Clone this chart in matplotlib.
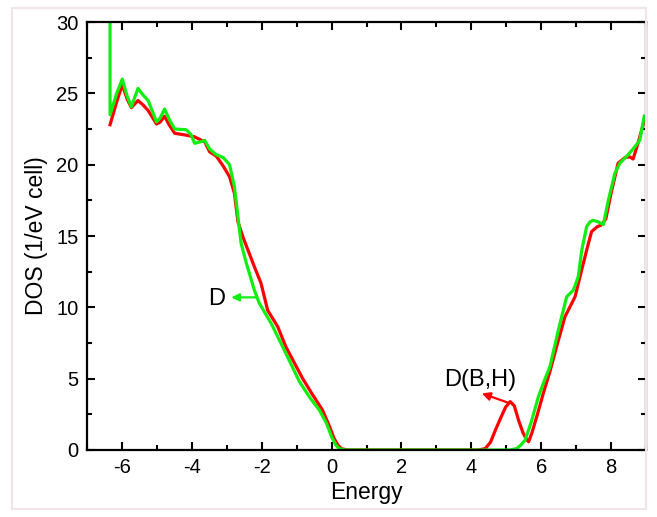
import matplotlib
matplotlib.use("Agg")
import matplotlib.pyplot as plt
from matplotlib.ticker import MultipleLocator
from matplotlib.patches import Rectangle

plt.rcParams["font.family"] = ["Liberation Sans", "DejaVu Sans"]
plt.rcParams["axes.unicode_minus"] = False

# DOS of pristine D (green)
e_d = [-6.34, -6.34, -6.15, -5.99, -5.85, -5.73, -5.54, -5.40, -5.25, -5.01, -4.90,
       -4.78, -4.65, -4.49, -4.16, -4.02, -3.92, -3.75, -3.63, -3.49, -3.30, -3.10,
       -2.92, -2.78, -2.68, -2.59, -2.44, -2.21, -2.07, -1.73, -1.40, -0.92, -0.60,
       -0.35, -0.15, 0.0, 0.12, 0.22, 0.4, 5.1, 5.30, 5.42, 5.54, 5.72, 5.92, 6.08,
       6.25, 6.49, 6.73, 6.92, 7.06, 7.16, 7.30, 7.40, 7.49, 7.62, 7.78, 7.92, 8.11,
       8.25, 8.45, 8.63, 8.82, 8.95]
dos_d = [30.0, 23.5, 25.0, 26.0, 24.8, 24.06, 25.35, 24.9, 24.5, 23.0, 23.3,
         23.9, 23.2, 22.5, 22.45, 22.1, 21.5, 21.6, 21.7, 21.1, 20.7, 20.5,
         20.0, 18.45, 16.35, 14.5, 13.1, 11.2, 10.3, 8.88, 7.24, 4.79, 3.6,
         2.8, 1.9, 0.93, 0.35, 0.1, 0.0, 0.0, 0.1, 0.35, 0.7, 2.0, 3.74, 4.8,
         5.84, 8.4, 10.75, 11.2, 12.15, 14.0, 15.65, 16.0, 16.1, 16.0, 15.8, 17.5, 19.4,
         20.1, 20.6, 21.1, 21.7, 23.4]

# DOS of D(B,H) (red)
e_bh = [-6.34, -6.15, -5.99, -5.85, -5.73, -5.54, -5.40, -5.25, -5.01, -4.90, -4.78,
        -4.65, -4.49, -4.16, -3.92, -3.63, -3.49, -3.30, -3.10, -2.92, -2.78, -2.68,
        -2.54, -2.21, -2.02, -1.83, -1.54, -1.31, -0.83, -0.55, -0.26, -0.05, 0.07,
        0.18, 0.28, 0.45, 4.2, 4.40, 4.55, 4.69, 4.85, 4.98, 5.11, 5.23, 5.35, 5.48,
        5.59, 5.64, 5.73, 5.88, 6.06, 6.25, 6.44, 6.68, 6.97, 7.11, 7.30, 7.44, 7.60,
        7.72, 7.85, 8.0, 8.2, 8.40, 8.53, 8.63, 8.77, 8.95]
dos_bh = [22.8, 24.4, 25.6, 24.6, 24.0, 24.5, 24.2, 23.8, 22.85, 23.0, 23.4,
          22.8, 22.2, 22.07, 21.95, 21.6, 20.9, 20.6, 19.9, 19.15, 18.0, 16.0,
          14.95, 12.85, 11.7, 9.8, 8.64, 7.24, 5.02, 3.9, 2.8, 1.6, 0.82,
          0.35, 0.1, 0.0, 0.0, 0.1, 0.55, 1.4, 2.3, 3.0, 3.39, 3.1, 2.1, 1.2,
          0.7, 0.58, 1.17, 2.4, 3.97, 5.5, 7.24, 9.34, 10.75, 12.15, 14.0, 15.3, 15.65,
          15.77, 16.2, 18.0, 20.1, 20.5, 20.55, 20.4, 21.5, 23.1]

fig = plt.figure(figsize=(6.57, 5.17), dpi=100)
fig.patches.append(Rectangle((0.018, 0.015), 0.966, 0.97, transform=fig.transFigure,
                             fill=False, edgecolor="#f2e4e6", linewidth=1.5))
ax = fig.add_axes([0.1324, 0.1296, 0.8509, 0.8278])

ax.plot(e_bh, dos_bh, color="#ff0000", lw=2.3, solid_joinstyle="round")
ax.plot(e_d, dos_d, color="#11ee11", lw=2.3, solid_joinstyle="round")

ax.text(-3.29, 10.6, "D", fontsize=17, ha="center", va="center")
ax.annotate("", xy=(-2.87, 10.7), xytext=(-2.16, 10.7),
            arrowprops=dict(arrowstyle="-|>", color="#11ee11", lw=1.6,
                            shrinkA=0, shrinkB=0, mutation_scale=11))
ax.text(4.25, 4.9, "D(B,H)", fontsize=17, ha="center", va="center")
ax.annotate("", xy=(4.30, 3.97), xytext=(5.07, 3.3),
            arrowprops=dict(arrowstyle="-|>", color="#ff0000", lw=1.6,
                            shrinkA=0, shrinkB=0, mutation_scale=12))

ax.set_xlim(-7, 9)
ax.set_ylim(0, 30)
ax.xaxis.set_major_locator(MultipleLocator(2))
ax.xaxis.set_minor_locator(MultipleLocator(1))
ax.yaxis.set_major_locator(MultipleLocator(5))
ax.yaxis.set_minor_locator(MultipleLocator(2.5))
ax.tick_params(which="both", direction="in", top=True, right=True, width=1.5,
               labelsize=14.5, pad=6)
ax.tick_params(which="major", length=6)
ax.tick_params(which="minor", length=3.5)
for s in ax.spines.values():
    s.set_linewidth(1.6)
ax.set_xlabel("Energy", fontsize=16.5, labelpad=3)
ax.set_ylabel("DOS (1/eV cell)", fontsize=16.5, labelpad=6)

fig.savefig("out.png", dpi=100)
